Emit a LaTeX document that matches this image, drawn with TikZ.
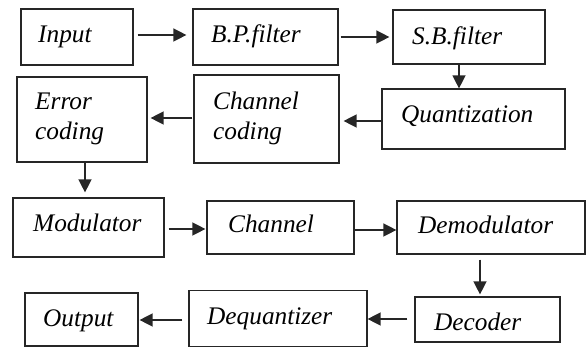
\documentclass[tikz,border=0pt]{standalone}
\usepackage{fontspec}
\setmainfont{Liberation Serif}
\usetikzlibrary{arrows.meta}
\begin{document}
\begin{tikzpicture}[x=1pt,y=-1pt,
  box/.style={draw=black!85,line width=1.2pt,inner sep=0pt,rectangle},
  lbl/.style={anchor=base west,inner sep=0pt,font=\fontsize{25.3}{30}\selectfont\itshape},
  arr/.style={draw=black!85,line width=1.4pt,-{Triangle[length=13pt,width=13pt]}}]
\useasboundingbox (0,0) rectangle (587,347);
% boxes
\node[box,minimum width=112,minimum height=56] (in) at (77,37) {};
\node[box,minimum width=145,minimum height=56] (bp) at (265.5,37) {};
\node[box,minimum width=152,minimum height=54] (sb) at (469,37) {};
\node[box,minimum width=183,minimum height=60] (qu) at (473.5,119) {};
\node[box,minimum width=145,minimum height=88] (cc) at (266.5,119) {};
\node[box,minimum width=130,minimum height=85] (ec) at (82,119.5) {};
\node[box,minimum width=151,minimum height=59] (mo) at (88.5,227.5) {};
\node[box,minimum width=147,minimum height=53] (ch) at (280.5,227.5) {};
\node[box,minimum width=188,minimum height=53] (dm) at (491,227.5) {};
\node[box,minimum width=145,minimum height=45] (de) at (487.5,319.5) {};
\node[box,minimum width=178,minimum height=56] (dq) at (278,318.5) {};
\node[box,minimum width=113,minimum height=53] (ou) at (81.5,319.5) {};
% labels
\node[lbl] (tin) at (38,43) {Input};
\node[lbl] (tbp) at (211,43) {B.P.filter};
\node[lbl] (tsb) at (412,45) {S.B.filter};
\node[lbl] (tqu) at (401,123) {Quantization};
\node[lbl] (tec1) at (35,110) {Error};
\node[lbl] (tec2) at (35,140) {coding};
\node[lbl] (tcc1) at (213,110) {Channel};
\node[lbl] (tcc2) at (213,140) {coding};
\node[lbl] (tmo) at (33,232) {Modulator};
\node[lbl] (tch) at (228,233) {Channel};
\node[lbl] (tdm) at (418,234) {Demodulator};
\node[lbl] (tou) at (43,327) {Output};
\node[lbl] (tdq) at (207,325) {Dequantizer};
\node[lbl] (tde) at (434,331) {Decoder};
% connectors
\draw[arr,shorten <=4pt,shorten >=6pt] (in.east |- 0,35) -- (bp.west |- 0,35);
\draw[arr,shorten <=2pt,shorten >=3pt] (bp.east |- 0,37) -- (sb.west |- 0,37);
\draw[arr] (sb.south -| 459,0) -- (qu.north -| 459,0);
\draw[arr,shorten >=4pt] (qu.west |- 0,121) -- (cc.east |- 0,121);
\draw[arr,shorten <=1pt,shorten >=3pt] (cc.west |- 0,118) -- (ec.east |- 0,118);
\draw[arr,shorten >=5pt] (ec.south -| 85,0) -- (mo.north -| 85,0);
\draw[arr,shorten <=4pt,shorten >=1pt] (mo.east |- 0,229) -- (ch.west |- 0,229);
\draw[arr] (ch.east |- 0,230) -- (dm.west |- 0,230);
\draw[arr,shorten <=5pt,shorten >=2pt] (dm.south -| 480,0) -- (de.north -| 480,0);
\draw[arr,shorten <=7pt] (de.west |- 0,319) -- (dq.east |- 0,319);
\draw[arr,shorten <=6pt,shorten >=1pt] (dq.west |- 0,320) -- (ou.east |- 0,320);
\end{tikzpicture}
\end{document}
